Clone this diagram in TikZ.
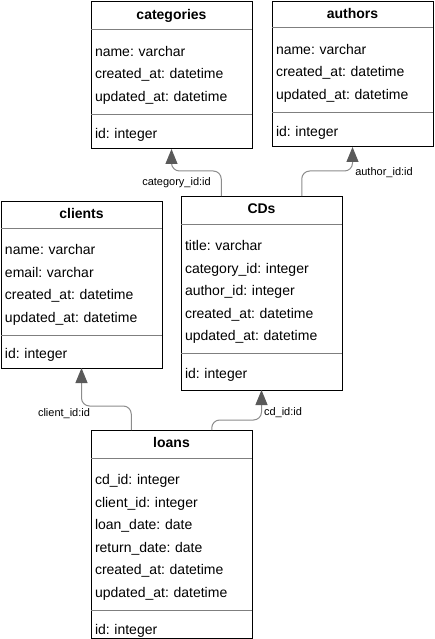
\documentclass[tikz,border=0pt]{standalone}
\usepackage{fontspec}
\setmainfont{Liberation Sans}
\usepackage{tikz}
\usetikzlibrary{arrows.meta, positioning, calc}
\definecolor{LinkGray}{HTML}{8C8C8C}
\definecolor{TipGray}{HTML}{5A5A5A}
\definecolor{RuleGray}{HTML}{7F7F7F}
\frenchspacing

\tikzset{
    tblhead/.style={minimum width=161pt, minimum height=28pt, inner sep=0pt, outer sep=0pt,
                    anchor=north west, text height=10pt, text depth=3pt,
                    font=\bfseries\fontsize{14}{16}\selectfont},
    tblbody/.style={text width=153pt, inner xsep=4pt, inner ysep=0pt, outer sep=0pt,
                    align=left, text height=26.5pt, font=\fontsize{14}{22.5}\selectfont},
    tblkey/.style={text width=153pt, inner xsep=4pt, inner ysep=0pt, outer sep=0pt,
                   align=left, text height=13pt, text depth=0pt,
                   font=\fontsize{14}{16}\selectfont},
    tblframe/.style={draw=black, line width=1pt},
    tblrule/.style={draw=RuleGray, line width=1pt},
    fklink/.style={draw=LinkGray, line width=1pt, rounded corners=8pt,
                   -{Triangle[length=15pt, width=12pt, color=TipGray]}},
    fklabel/.style={font=\fontsize{11}{13}\selectfont, inner sep=1pt}
}

\begin{document}
\begin{tikzpicture}[x=1pt, y=-1pt]
    \useasboundingbox (0,0) rectangle (434,639);

    % categories
    \node[tblhead] (cat-head) at (91,2) {categories};
    \node[tblbody, text depth=58pt, below=0pt of cat-head] (cat-body)
        {name: varchar\\created\_at: datetime\\updated\_at: datetime};
    \node[tblkey, minimum height=34.5pt, below=0pt of cat-body] (cat-key) {id: integer};
    \draw[tblframe] (cat-head.north west) rectangle (cat-key.south east);
    \draw[tblrule] (cat-body.north west) -- (cat-body.north east)
                   (cat-key.north west) -- (cat-key.north east);

    % authors
    \node[tblhead, minimum height=26pt] (aut-head) at (272,2) {authors};
    \node[tblbody, text depth=58pt, below=0pt of aut-head] (aut-body)
        {name: varchar\\created\_at: datetime\\updated\_at: datetime};
    \node[tblkey, minimum height=34.5pt, below=0pt of aut-body] (aut-key) {id: integer};
    \draw[tblframe] (aut-head.north west) rectangle (aut-key.south east);
    \draw[tblrule] (aut-body.north west) -- (aut-body.north east)
                   (aut-key.north west) -- (aut-key.north east);

    % clients
    \node[tblhead, minimum height=27pt] (cli-head) at (1,201) {clients};
    \node[tblbody, text depth=80.5pt, below=0pt of cli-head] (cli-body)
        {name: varchar\\email: varchar\\created\_at: datetime\\updated\_at: datetime};
    \node[tblkey, minimum height=33pt, below=0pt of cli-body] (cli-key) {id: integer};
    \draw[tblframe] (cli-head.north west) rectangle (cli-key.south east);
    \draw[tblrule] (cli-body.north west) -- (cli-body.north east)
                   (cli-key.north west) -- (cli-key.north east);

    % CDs
    \node[tblhead] (cds-head) at (181,196) {CDs};
    \node[tblbody, text depth=103pt, below=0pt of cds-head] (cds-body)
        {title: varchar\\category\_id: integer\\author\_id: integer\\created\_at: datetime\\updated\_at: datetime};
    \node[tblkey, minimum height=36.5pt, below=0pt of cds-body] (cds-key) {id: integer};
    \draw[tblframe] (cds-head.north west) rectangle (cds-key.south east);
    \draw[tblrule] (cds-body.north west) -- (cds-body.north east)
                   (cds-key.north west) -- (cds-key.north east);

    % loans
    \node[tblhead] (loan-head) at (91,430) {loans};
    \node[tblbody, text depth=125.5pt, below=0pt of loan-head] (loan-body)
        {cd\_id: integer\\client\_id: integer\\loan\_date: date\\return\_date: date\\created\_at: datetime\\updated\_at: datetime};
    \node[tblkey, minimum height=28pt, text height=20pt, below=0pt of loan-body] (loan-key) {id: integer};
    \draw[tblframe] (loan-head.north west) rectangle (loan-key.south east);
    \draw[tblrule] (loan-body.north west) -- (loan-body.north east)
                   (loan-key.north west) -- (loan-key.north east);

    % foreign keys
    \draw[fklink] ($(cds-head.north west)!0.25!(cds-head.north east)$) -- ++(0,-25) -| (cat-key.south);
    \draw[fklink] ($(cds-head.north west)!0.75!(cds-head.north east)$) -- ++(0,-25) -| (aut-key.south);
    \draw[fklink] ($(loan-head.north west)!0.25!(loan-head.north east)$) -- ++(0,-24) -| (cli-key.south);
    \draw[fklink] ($(loan-head.north west)!0.75!(loan-head.north east)$) -- ++(0,-10) -| (cds-key.south);

    \node[fklabel] (lbl-cat) at (176.5,183) {category\_id:id};
    \node[fklabel] (lbl-aut) at (384,173) {author\_id:id};
    \node[fklabel] (lbl-cli) at (64,414) {client\_id:id};
    \node[fklabel] (lbl-cd) at (283,413) {cd\_id:id};
\end{tikzpicture}
\end{document}
